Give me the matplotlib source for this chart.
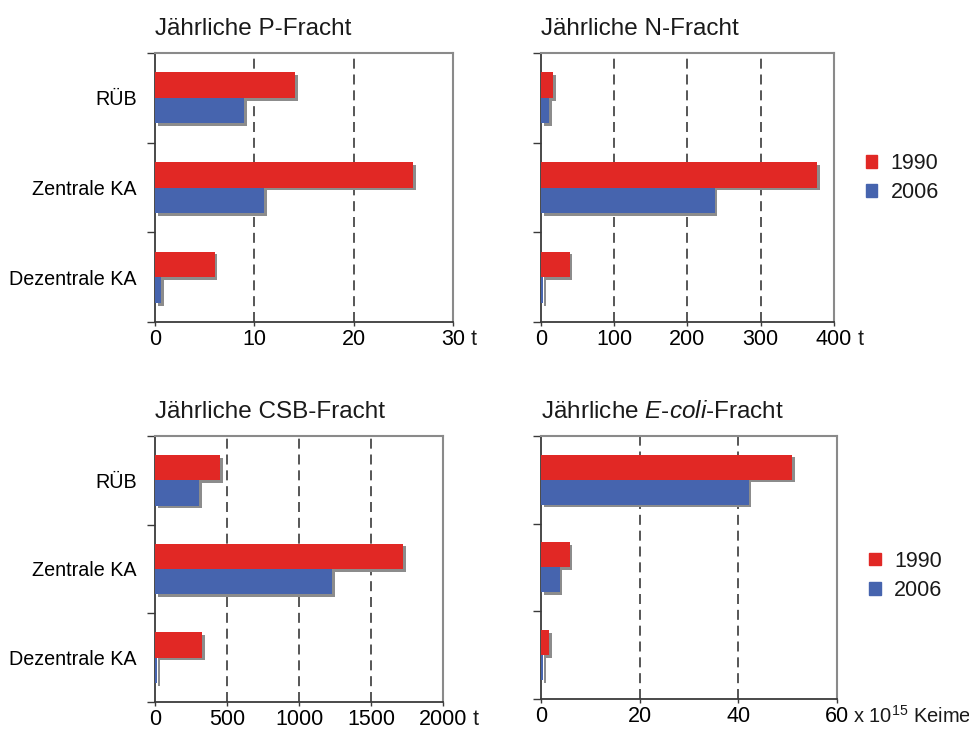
import numpy as np
import matplotlib
matplotlib.use("Agg")
import matplotlib.pyplot as plt
import matplotlib.patheffects as pe
from matplotlib.patches import Patch

plt.rcParams["font.family"] = "Liberation Sans"
plt.rcParams["mathtext.fontset"] = "custom"
plt.rcParams["mathtext.rm"] = "Liberation Sans"
plt.rcParams["mathtext.it"] = "Liberation Sans:italic"
plt.rcParams["text.color"] = "#1a1a1a"

# Jahresfrachten je Einleitungsart
categories = ["RÜB", "Zentrale KA", "Dezentrale KA"]
years = ["1990", "2006"]

p_1990 = [14.1, 26.0, 6.0]
p_2006 = [9.0, 11.0, 0.6]

n_1990 = [17, 377, 39]
n_2006 = [11, 237, 3]

csb_1990 = [452, 1722, 329]
csb_2006 = [308, 1231, 12]

ecoli_1990 = [50.9, 5.8, 1.6]
ecoli_2006 = [42.1, 3.8, 0.5]

p_ticks = [0, 10, 20, 30]
n_ticks = [0, 100, 200, 300, 400]
csb_ticks = [0, 500, 1000, 1500, 2000]
ecoli_ticks = [0, 20, 40, 60]

RED = "#e12825"
BLUE = "#4664ae"
SHADOW = "#8c8c8c"
DARK = "#3a3a3a"
LIGHT = "#8a8a8a"

TITLE_FS = 17.5
CAT_FS = 14.2
NUM_FS = 15.5
LEG_FS = 15.5

fig = plt.figure(figsize=(9.7, 7.31), dpi=100)

bar_h = 0.285
shadow = [pe.SimplePatchShadow(offset=(2, -2), shadow_rgbFace=SHADOW, alpha=1.0),
          pe.Normal()]


def draw_panel(rect, title, v1990, v2006, ticks, show_cats, legend_y):
    ax = fig.add_axes(rect)
    y = np.arange(len(categories))

    ax.barh(y - bar_h / 2, v1990, height=bar_h, color=RED,
            path_effects=shadow, zorder=3)
    ax.barh(y + bar_h / 2, v2006, height=bar_h, color=BLUE,
            path_effects=shadow, zorder=3)

    for t in ticks[1:-1]:
        ax.axvline(t, color=DARK, lw=1.2, ls=(0, (6, 3.5)), zorder=1)

    ax.set_xlim(ticks[0], ticks[-1])
    ax.set_ylim(len(categories) - 0.5, -0.5)

    ax.set_xticks(ticks)
    ax.set_xticklabels([str(t) for t in ticks])
    ax.tick_params(axis="x", direction="out", length=3, width=1,
                   color=DARK, pad=2, labelsize=NUM_FS)

    # category borders as ticks, names centred between them
    ax.set_yticks(np.arange(len(categories) + 1) - 0.5)
    ax.set_yticklabels([])
    ax.set_yticks(y, minor=True)
    ax.set_yticklabels(categories if show_cats else [], minor=True)
    ax.tick_params(axis="y", which="major", direction="out", length=6,
                   width=1, color=DARK)
    ax.tick_params(axis="y", which="minor", length=0, pad=13,
                   labelsize=CAT_FS)

    for side in ["left", "bottom"]:
        ax.spines[side].set_color(DARK)
        ax.spines[side].set_linewidth(1.3)
    for side in ["top", "right"]:
        ax.spines[side].set_color(LIGHT)
        ax.spines[side].set_linewidth(1.5)

    ax.set_title(title, loc="left", pad=13, fontsize=TITLE_FS)

    if legend_y is not None:
        ax.legend(handles=[Patch(color=RED), Patch(color=BLUE)], labels=years,
                  loc="center left", bbox_to_anchor=(1.11, legend_y),
                  frameon=False, fontsize=LEG_FS, handlelength=0.52,
                  handleheight=0.52, handletextpad=0.62, labelspacing=0.38,
                  borderpad=0, borderaxespad=0)
    return ax


ax_p = draw_panel([0.1598, 0.5595, 0.3072, 0.368], "Jährliche P-Fracht",
                  p_1990, p_2006, p_ticks, True, None)
ax_n = draw_panel([0.5577, 0.5595, 0.302, 0.368], "Jährliche N-Fracht",
                  n_1990, n_2006, n_ticks, False, 0.535)
ax_c = draw_panel([0.1598, 0.0397, 0.297, 0.364], "Jährliche CSB-Fracht",
                  csb_1990, csb_2006, csb_ticks, True, None)
ax_e = draw_panel([0.5577, 0.0438, 0.305, 0.36],
                  r"Jährliche $\mathit{E}$-$\mathit{coli}$-Fracht",
                  ecoli_1990, ecoli_2006, ecoli_ticks, False, 0.468)

# units after the last tick label of each axis
fig.canvas.draw()
W, H = fig.bbox.width, fig.bbox.height
for ax, unit in [(ax_p, " t"), (ax_n, " t"), (ax_c, " t")]:
    bb = ax.get_xticklabels()[-1].get_window_extent()
    fig.text(bb.x1 / W, bb.y1 / H, unit, ha="left", va="top", fontsize=NUM_FS)

bb = ax_e.get_xticklabels()[-1].get_window_extent()
descent = 0.21 * NUM_FS * 100 / 72
fig.text((bb.x1 + 4) / W, (bb.y0 + descent) / H, r"x 10$^{15}$ Keime",
         ha="left", va="baseline", fontsize=14.5)

fig.savefig("out.png", dpi=100)
